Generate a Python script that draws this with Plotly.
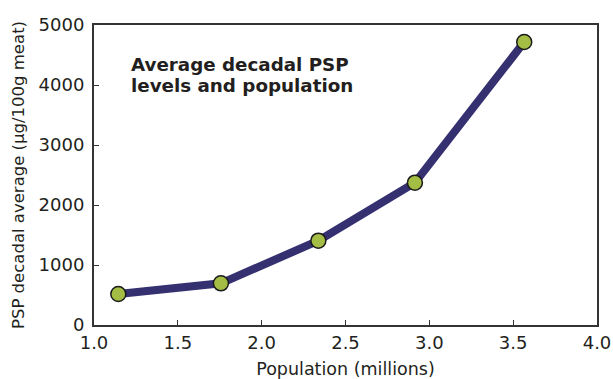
import plotly.graph_objects as go

population = [1.145, 1.757, 2.338, 2.914, 3.566]
psp_avg = [517, 695, 1405, 2372, 4717]

x_ticks = [1.0, 1.5, 2.0, 2.5, 3.0, 3.5, 4.0]
y_ticks = [0, 1000, 2000, 3000, 4000, 5000]

title_lines = ["Average decadal PSP", "levels and population"]
title_y = [4335, 3985]

font_family = "DejaVu Sans"
ink = "#231f20"

fig = go.Figure()
fig.add_trace(
    go.Scatter(
        x=population,
        y=psp_avg,
        mode="lines+markers",
        line=dict(color="#35306f", width=8),
        marker=dict(size=15, color="#a4bd45", line=dict(color="#1a1a1a", width=1.5)),
        showlegend=False,
        cliponaxis=False,
    )
)

# chart caption, one annotation per line to get the tight line spacing
for line, yv in zip(title_lines, title_y):
    fig.add_annotation(
        x=1.21, y=yv, xref="x", yref="y",
        text="<b>" + line + "</b>",
        showarrow=False, xanchor="left", yanchor="middle", align="left",
        font=dict(family=font_family, size=18.3, color=ink),
    )

axis_common = dict(
    showline=True, linecolor="#333333", linewidth=2, mirror=True,
    ticks="inside", ticklen=5, tickcolor="#333333", tickwidth=1,
    showgrid=False, zeroline=False, automargin=False,
    tickfont=dict(family=font_family, size=18, color=ink),
)

fig.update_xaxes(
    range=[1.0, 4.0], tickvals=x_ticks, ticktext=["%.1f" % v for v in x_ticks],
    ticklabelstandoff=0,
    title=dict(text="Population (millions)", font=dict(family=font_family, size=17.5, color=ink), standoff=12),
    **axis_common,
)
fig.update_yaxes(
    range=[0, 5000], tickvals=y_ticks,
    ticklabelstandoff=4,
    title=dict(text="PSP decadal average (μg/100g meat)", font=dict(family=font_family, size=16.5, color=ink), standoff=10),
    **axis_common,
)

fig.update_layout(
    width=613, height=379,
    margin=dict(l=94, r=16, t=25, b=54),
    paper_bgcolor="white", plot_bgcolor="white",
)

# drop the default body margin so the figure fills the window exactly
fig.write_html(
    "out.html",
    config={"displayModeBar": False},
    post_script="document.body.style.margin='0';document.body.style.overflow='hidden';",
)
